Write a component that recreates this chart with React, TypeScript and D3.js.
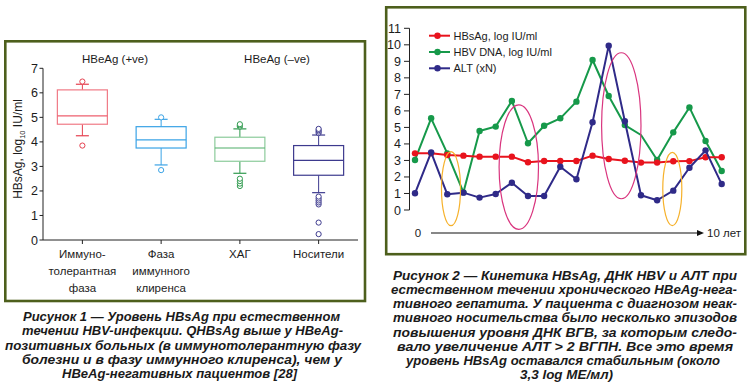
import React from 'react';
import * as d3 from 'd3';

// ---------- Figure 1: box plots ----------
const boxCategories = [
  ['Иммуно-', 'толерантная', 'фаза'],
  ['Фаза', 'иммунного', 'клиренса'],
  ['ХАГ'],
  ['Носители'],
];
const boxQ1 = [4.72, 3.75, 3.21, 2.64];
const boxMedian = [5.06, 4.08, 3.75, 3.25];
const boxQ3 = [6.12, 4.62, 4.19, 3.85];
const whiskerLow = [4.25, 3.06, 2.72, 1.93];
const whiskerHigh = [6.35, 4.92, 4.53, 4.28];
const boxOutliers = [
  [3.85, 6.46],
  [2.85, 5.0],
  [2.2, 2.3, 2.4, 2.5, 4.62, 4.67, 4.72],
  [0.24, 0.71, 1.45, 1.53, 1.61, 1.69, 1.77, 4.36, 4.42, 4.48, 4.53],
];
const groupTitles = ['HBeAg (+ve)', 'HBeAg (–ve)'];
const leftTicks = [0, 1, 2, 3, 4, 5, 6, 7];

// ---------- Figure 2: kinetics ----------
const visits = [0, 1, 2, 3, 4, 5, 6, 7, 8, 9, 10, 11, 12, 13, 14, 15, 16, 17, 18, 19];
const hbsag = [3.43, 3.43, 3.33, 3.29, 3.23, 3.23, 3.23, 2.89, 2.97, 2.97, 2.97, 3.29, 3.09, 2.98, 2.87, 2.87, 2.95, 2.96, 3.19, 3.19];
const hbvDna = [3.03, 5.55, 3.43, 1.07, 4.78, 5.05, 6.6, 4.04, 5.1, 5.55, 6.56, 9.08, 6.9, 5.14, 4.54, 3.03, 4.7, 6.21, 4.18, 2.36];
const hbvDnaNoMarker = [14];
const alt = [1.01, 3.49, 0.95, 1.05, 0.75, 0.97, 1.65, 0.85, 0.85, 2.62, 1.86, 5.31, 9.95, 5.37, 0.89, 0.59, 1.17, 2.56, 3.61, 1.57];
const seriesNames = ['HBsAg, log IU/ml', 'HBV DNA, log IU/ml', 'ALT (xN)'];
const rightTicks = [0, 1, 2, 3, 4, 5, 6, 7, 8, 9, 10, 11];
// annotation ellipses (visit index / value units)
const ellipseCx = [2.23, 6.43, 12.78, 15.94];
const ellipseCy = [1.29, 2.6, 5.1, 1.27];
const ellipseRx = [0.59, 1.22, 1.22, 0.59];
const ellipseRy = [2.24, 3.77, 4.42, 2.22];
const ellipseKind = [0, 1, 1, 0];
const timeLabels = ['0', '10 лет'];

// ---------- Captions ----------
const caption1 = [
  'Рисунок 1 — Уровень HBsAg при естественном',
  'течении HBV-инфекции. QHBsAg выше у HBeAg-',
  'позитивных больных (в иммунотолерантную фазу',
  'болезни и в фазу иммунного клиренса), чем у',
  'HBeAg-негативных пациентов [28]',
];
const caption2 = [
  'Рисунок 2 — Кинетика HBsAg, ДНК HBV и АЛТ при',
  'естественном течении хронического HBeAg-нега-',
  'тивного гепатита. У пациента с диагнозом неак-',
  'тивного носительства было несколько эпизодов',
  'повышения уровня ДНК ВГВ, за которым следо-',
  'вало увеличение АЛТ > 2 ВГПН. Все это время',
  'уровень HBsAg оставался стабильным (около',
  '3,3 log МЕ/мл)',
];

// layout (styles / positions)
const FONT = "'Liberation Sans', Arial, sans-serif";
const cap1Span = [[23, 340], [22, 343], [5, 361], [22, 342], [62, 297]];
const cap1Base = [321, 335.3, 349.5, 363.7, 378];
const cap2Span = [[393, 737], [391, 737], [393, 737], [393, 737], [393, 737], [397, 733], [406, 720], [520, 613]];
const cap2Base = [279.5, 293.7, 308, 322.2, 336.5, 350.7, 365, 379.2];
const boxStroke = ['#f07a86', '#3aa3e6', '#8ccb9b', '#3d3a8e'];
const boxDark = ['#e5404f', '#3aa3e6', '#2f9a4e', '#3d3a8e'];
const medianColor = ['#ee5f6e', '#3aa3e6', '#4fae69', '#3d3a8e'];
const seriesColors = ['#e8131d', '#16994a', '#2f2a88'];
const ellipseColors = ['#f6b12a', '#d9347e'];
const BORDER = '#4d5f1c';
const TEXT = '#1c1c1c';

export default function App() {
  // left chart scales
  const xL = d3
    .scaleBand<number>()
    .domain(d3.range(boxCategories.length))
    .range([43, 358])
    .paddingInner(0.365)
    .paddingOuter(0.1825);
  const yL = d3.scaleLinear().domain([0, 7]).range([240, 68.3]);
  const bw = xL.bandwidth();

  // right chart scales
  const xR = d3.scaleLinear().domain([0, 19]).range([415, 721.7]);
  const yR = d3.scaleLinear().domain([0, 11]).range([210, 28.3]);
  const line = d3
    .line<number>()
    .x((_, i) => xR(visits[i]))
    .y((d) => yR(d));
  const series = [hbsag, hbvDna, alt];
  const drawOrder = [1, 0, 2];

  return (
    <svg
      width={749}
      height={386}
      style={{ position: 'absolute', left: 0, top: 0, background: '#fff' }}
      fontFamily={FONT}
    >
      <rect x={0} y={0} width={749} height={386} fill="#fff" />
      {/* ===== Left panel ===== */}
      <rect x={5.3} y={41.3} width={359.7} height={259.7} fill="none" stroke={BORDER} strokeWidth={2.6} />
      {/* group titles */}
      <text x={115} y={63.3} fontSize={11.5} textAnchor="middle" fill={TEXT}>{groupTitles[0]}</text>
      <text x={277} y={63.3} fontSize={11.5} textAnchor="middle" fill={TEXT}>{groupTitles[1]}</text>
      {/* y axis */}
      <line x1={43} x2={43} y1={yL(7)} y2={yL(0)} stroke="#222" strokeWidth={1} />
      {leftTicks.map((t) => (
        <g key={t}>
          <line x1={39.5} x2={43} y1={yL(t)} y2={yL(t)} stroke="#222" strokeWidth={1} />
          <text x={38} y={yL(t)} dy="0.36em" fontSize={12.5} textAnchor="end" fill={TEXT}>{t}</text>
        </g>
      ))}
      <text transform="translate(21.5,149) rotate(-90)" fontSize={12} textAnchor="middle" fill={TEXT}>
        HBsAg, log<tspan dy={3} fontSize={7.5}>10</tspan>
        <tspan dy={-3}> IU/ml</tspan>
      </text>
      {/* x axis */}
      <line x1={43} x2={358} y1={yL(0)} y2={yL(0)} stroke="#222" strokeWidth={1} />
      {boxCategories.map((lines, i) => {
        const cx = (xL(i) as number) + bw / 2;
        return (
          <g key={i}>
            <line x1={cx} x2={cx} y1={yL(0)} y2={yL(0) + 4} stroke="#222" strokeWidth={1} />
            {lines.map((s, j) => (
              <text key={j} x={cx} y={258 + j * 17} fontSize={11.5} textAnchor="middle" fill={TEXT}>{s}</text>
            ))}
          </g>
        );
      })}
      {/* boxes */}
      {boxCategories.map((_, i) => {
        const x0 = xL(i) as number;
        const cx = x0 + bw / 2;
        return (
          <g key={i}>
            <line x1={cx} x2={cx} y1={yL(boxQ3[i])} y2={yL(whiskerHigh[i])} stroke={boxDark[i]} strokeWidth={1} />
            <line x1={cx} x2={cx} y1={yL(boxQ1[i])} y2={yL(whiskerLow[i])} stroke={boxDark[i]} strokeWidth={1} />
            <line x1={cx - 6.5} x2={cx + 6.5} y1={yL(whiskerHigh[i])} y2={yL(whiskerHigh[i])} stroke={boxDark[i]} strokeWidth={1.2} />
            <line x1={cx - 6.5} x2={cx + 6.5} y1={yL(whiskerLow[i])} y2={yL(whiskerLow[i])} stroke={boxDark[i]} strokeWidth={1.2} />
            <rect
              x={x0}
              y={yL(boxQ3[i])}
              width={bw}
              height={yL(boxQ1[i]) - yL(boxQ3[i])}
              fill="#fff"
              stroke={boxStroke[i]}
              strokeWidth={1.2}
            />
            <line x1={x0} x2={x0 + bw} y1={yL(boxMedian[i])} y2={yL(boxMedian[i])} stroke={medianColor[i]} strokeWidth={1.2} />
            {boxOutliers[i].map((v, k) => (
              <circle key={k} cx={cx} cy={yL(v)} r={2.6} fill="#fff" stroke={boxDark[i]} strokeWidth={1} />
            ))}
          </g>
        );
      })}

      {/* ===== Right panel ===== */}
      <rect x={386.2} y={7.3} width={359.1} height={246.9} fill="none" stroke={BORDER} strokeWidth={2.6} />
      <line x1={409.5} x2={409.5} y1={yR(11)} y2={yR(0)} stroke="#222" strokeWidth={1} />
      {rightTicks.map((t) => (
        <g key={t}>
          <line x1={404} x2={409.5} y1={yR(t)} y2={yR(t)} stroke="#222" strokeWidth={1} />
          <text x={401} y={yR(t)} dy="0.36em" fontSize={12.5} textAnchor="end" fill={TEXT}>{t}</text>
        </g>
      ))}
      {/* series */}
      {drawOrder.map((s) => (
        <g key={s}>
          <path d={line(series[s]) || ''} fill="none" stroke={seriesColors[s]} strokeWidth={2} strokeLinejoin="round" />
          {series[s].map((v, i) =>
            s === 1 && hbvDnaNoMarker.includes(i) ? null : (
              <circle key={i} cx={xR(visits[i])} cy={yR(v)} r={3.2} fill={seriesColors[s]} />
            )
          )}
        </g>
      ))}
      {/* ellipses (on top of series) */}
      {ellipseCx.map((c, i) => (
        <ellipse
          key={i}
          cx={xR(c)}
          cy={yR(ellipseCy[i])}
          rx={xR(c + ellipseRx[i]) - xR(c)}
          ry={yR(0) - yR(ellipseRy[i])}
          fill="none"
          stroke={ellipseColors[ellipseKind[i]]}
          strokeWidth={1.2}
        />
      ))}
      {/* legend */}
      {seriesNames.map((n, i) => {
        const y = 35.7 + i * 16.3;
        return (
          <g key={n}>
            <line x1={429} x2={450} y1={y} y2={y} stroke={seriesColors[i]} strokeWidth={2} />
            <circle cx={437.5} cy={y} r={3.2} fill={seriesColors[i]} />
            <text x={453.5} y={y} dy="0.36em" fontSize={11} fill={TEXT}>{n}</text>
          </g>
        );
      })}
      {/* time arrow */}
      <text x={418} y={237.3} fontSize={11.5} textAnchor="middle" fill={TEXT}>{timeLabels[0]}</text>
      <line x1={431} x2={698} y1={233} y2={233} stroke="#111" strokeWidth={1.2} />
      <path d="M697,230 L704,233 L697,236 Z" fill="#111" />
      <text x={707} y={237.3} fontSize={11.5} fill={TEXT}>{timeLabels[1]}</text>

      {/* ===== Captions ===== */}
      {caption1.map((s, i) => (
        <text
          key={i}
          x={cap1Span[i][0]}
          y={cap1Base[i]}
          fontSize={12.5}
          fontWeight="bold"
          fontStyle="italic"
          fill="#1a1a1a"
          textLength={cap1Span[i][1] - cap1Span[i][0]}
          lengthAdjust="spacingAndGlyphs"
        >
          {s}
        </text>
      ))}
      {caption2.map((s, i) => (
        <text
          key={i}
          x={cap2Span[i][0]}
          y={cap2Base[i]}
          fontSize={12.5}
          fontWeight="bold"
          fontStyle="italic"
          fill="#1a1a1a"
          textLength={cap2Span[i][1] - cap2Span[i][0]}
          lengthAdjust="spacingAndGlyphs"
        >
          {s}
        </text>
      ))}
    </svg>
  );
}
